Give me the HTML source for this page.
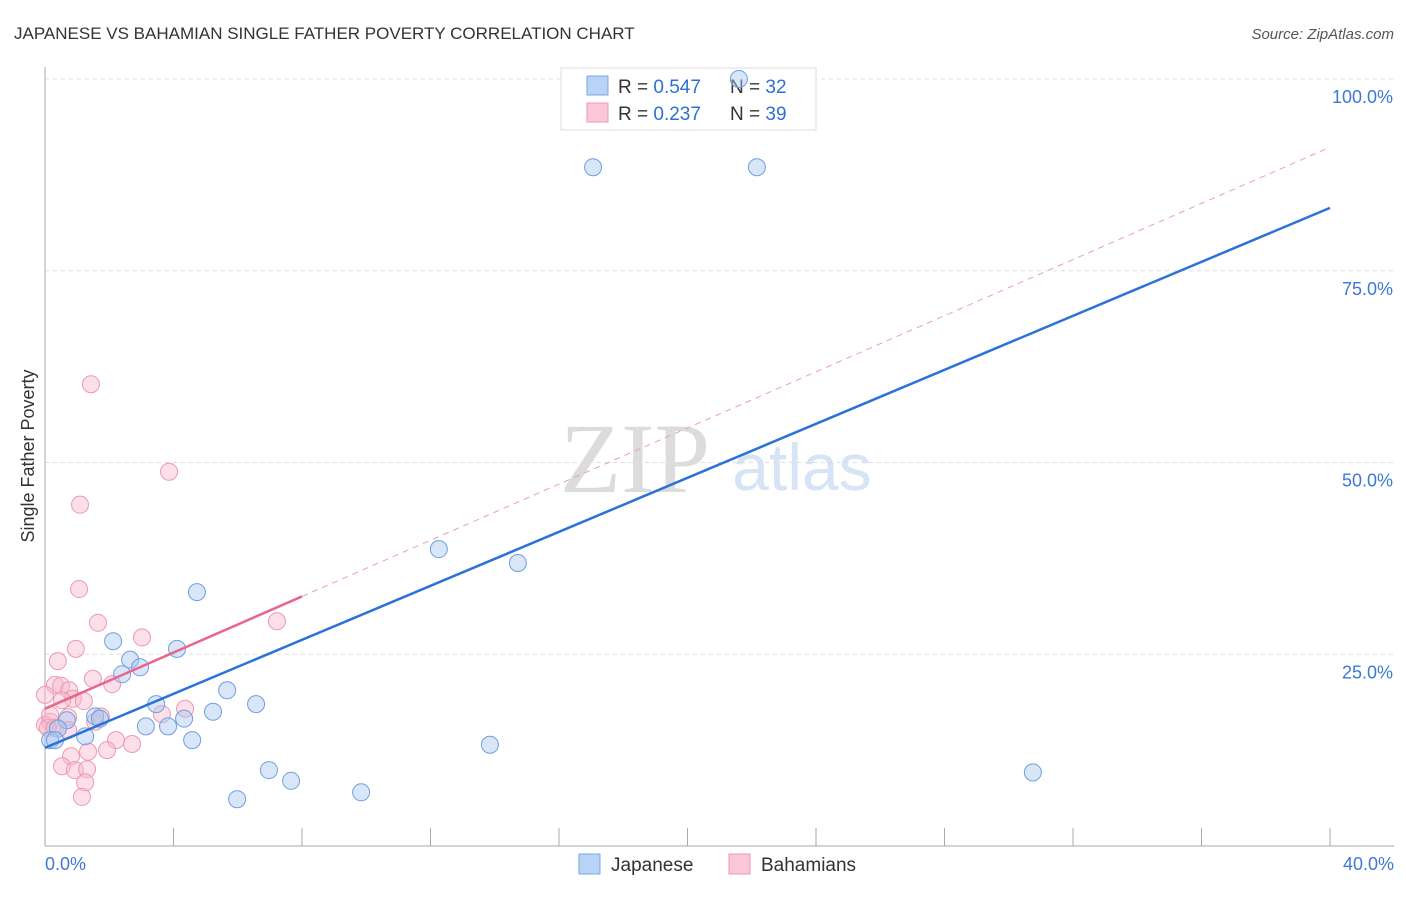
<!DOCTYPE html>
<html><head><meta charset="utf-8"><style>
body{margin:0;background:#fff;font-family:"Liberation Sans",sans-serif;}
</style></head><body>
<svg id="chart" width="1406" height="892" font-family="Liberation Sans, sans-serif">
<text x="14" y="39" font-size="17" fill="#333">JAPANESE VS BAHAMIAN SINGLE FATHER POVERTY CORRELATION CHART</text>
<text x="1394" y="39" font-size="15" fill="#555" text-anchor="end" font-style="italic">Source: ZipAtlas.com</text>
<text x="635" y="492" font-size="100" fill="#dcdcdc" style="font-family:'Liberation Serif',serif" text-anchor="middle">ZIP</text>
<text x="802" y="490" font-size="66" fill="#d6e4f5" text-anchor="middle">atlas</text>
<text transform="translate(34,456) rotate(-90)" font-size="18" fill="#333" text-anchor="middle">Single Father Poverty</text>
<g id="grid"></g><g id="axes"></g>
<g>
<rect x="561" y="68" width="255" height="62" fill="#fff" stroke="#ddd"/>
<rect x="587" y="76" width="21" height="19" fill="#b8d3f5" stroke="#7aa8e6"/>
<rect x="587" y="103" width="21" height="19" fill="#fac8d6" stroke="#ee9ab2"/>
<text x="618" y="93" font-size="19" fill="#333">R = <tspan fill="#2f6fd6">0.547</tspan></text>
<text x="730" y="93" font-size="19" fill="#333">N = <tspan fill="#2f6fd6">32</tspan></text>
<text x="618" y="120" font-size="19" fill="#333">R = <tspan fill="#2f6fd6"> 0.237</tspan></text>
<text x="730" y="120" font-size="19" fill="#333">N = <tspan fill="#2f6fd6">39</tspan></text>
</g>
<g id="marks"></g>
<g>
<rect x="579" y="854" width="21" height="20" fill="#b8d3f5" stroke="#7aa8e6"/>
<text x="611" y="871" font-size="19" fill="#333">Japanese</text>
<rect x="729" y="854" width="21" height="20" fill="#fac8d6" stroke="#ee9ab2"/>
<text x="761" y="871" font-size="19" fill="#333">Bahamians</text>
</g>
</svg>
<script>
const jpX=[21.6,17.06,22.16,12.26,14.72,4.73,2.12,4.11,2.65,2.96,2.40,5.67,3.46,6.57,5.23,1.56,0.68,1.71,4.33,3.14,3.83,0.40,1.25,0.16,0.31,4.58,13.85,6.97,30.75,7.66,9.84,5.98];
const jpY=[100.0,88.5,88.5,38.7,36.9,33.1,26.7,25.7,24.3,23.3,22.4,20.3,18.5,18.5,17.5,16.9,16.4,16.6,16.6,15.6,15.6,15.3,14.3,13.8,13.8,13.8,13.2,9.9,9.6,8.5,7.0,6.1];
const bhX=[1.43,3.86,1.09,1.06,1.65,7.22,3.02,0.96,0.40,1.49,2.09,0.31,0.50,0.75,0.87,1.21,0.53,0,4.36,3.64,0.72,1.74,1.56,0.16,0,0.09,2.21,2.71,1.93,1.34,0.81,0.53,0.93,1.31,1.25,1.15,0.16,0.31,0.72];
const bhY=[60.2,48.8,44.5,33.5,29.1,29.3,27.2,25.7,24.1,21.8,21.1,21.0,20.9,20.3,19.2,18.9,19.0,19.7,17.9,17.2,16.8,16.9,16.2,16.2,15.8,15.4,13.8,13.3,12.5,12.3,11.7,10.4,9.9,10.0,8.3,6.4,17.1,15.4,15.1];
const jpTrend=[12.8,83.2];
const bhTrend=[17.9,1.83];
const yTicks=[25,50,75,100];
const xTickLabels=["0.0%","40.0%"];
const X=v=>45+v*32.125, Y=v=>846-v*7.67;
const NS="http://www.w3.org/2000/svg";
function mk(t,a,p){const e=document.createElementNS(NS,t);for(const k in a)e.setAttribute(k,a[k]);p.appendChild(e);return e;}
const grid=document.getElementById('grid'),axes=document.getElementById('axes'),marks=document.getElementById('marks');
yTicks.forEach(t=>{const l=mk('line',{x1:45,x2:1394,y1:Y(t),y2:Y(t),stroke:'#ddd','stroke-dasharray':'4,4'},grid);


const tx=mk('text',{x:1393,y:Y(t)+24,'font-size':18,fill:'#3d78d8','text-anchor':'end'},axes);tx.textContent=t.toFixed(1)+'%';

});
const ya=mk('line',{x1:45,x2:45,y1:67,y2:846,stroke:'#aaa'},axes);


const xa=mk('line',{x1:45,x2:1394,y1:846,y2:846,stroke:'#aaa'},axes);


for(let i=0;i<=10;i++){const tk=mk('line',{x1:X(i*4),x2:X(i*4),y1:828,y2:846,stroke:'#aaa'},axes);

}
const t0=mk('text',{x:45,y:870,'font-size':18,fill:'#3d78d8'},axes);t0.textContent=xTickLabels[0];


const t1=mk('text',{x:1394,y:870,'font-size':18,fill:'#3d78d8','text-anchor':'end'},axes);t1.textContent=xTickLabels[1];


bhX.forEach((x,i)=>{const c=mk('circle',{cx:X(x),cy:Y(bhY[i]),r:8.5,fill:'rgba(248,184,204,0.45)',stroke:'#eb9ab2','stroke-width':1},marks);

});
jpX.forEach((x,i)=>{const c=mk('circle',{cx:X(x),cy:Y(jpY[i]),r:8.5,fill:'rgba(168,200,240,0.45)',stroke:'#6f9fe0','stroke-width':1},marks);

});
const bd=mk('line',{x1:X(8),y1:Y(bhTrend[0]+bhTrend[1]*8),x2:X(40),y2:Y(bhTrend[0]+bhTrend[1]*40),stroke:'#e8a0b4','stroke-dasharray':'6,5','stroke-width':1},marks);


const bl=mk('line',{x1:X(0),y1:Y(bhTrend[0]),x2:X(8),y2:Y(bhTrend[0]+bhTrend[1]*8),stroke:'#e8658e','stroke-width':2.5},marks);


const jl=mk('line',{x1:X(0),y1:Y(jpTrend[0]),x2:X(40),y2:Y(jpTrend[1]),stroke:'#2a72d8','stroke-width':2.5},marks);


</script>
</body></html>
